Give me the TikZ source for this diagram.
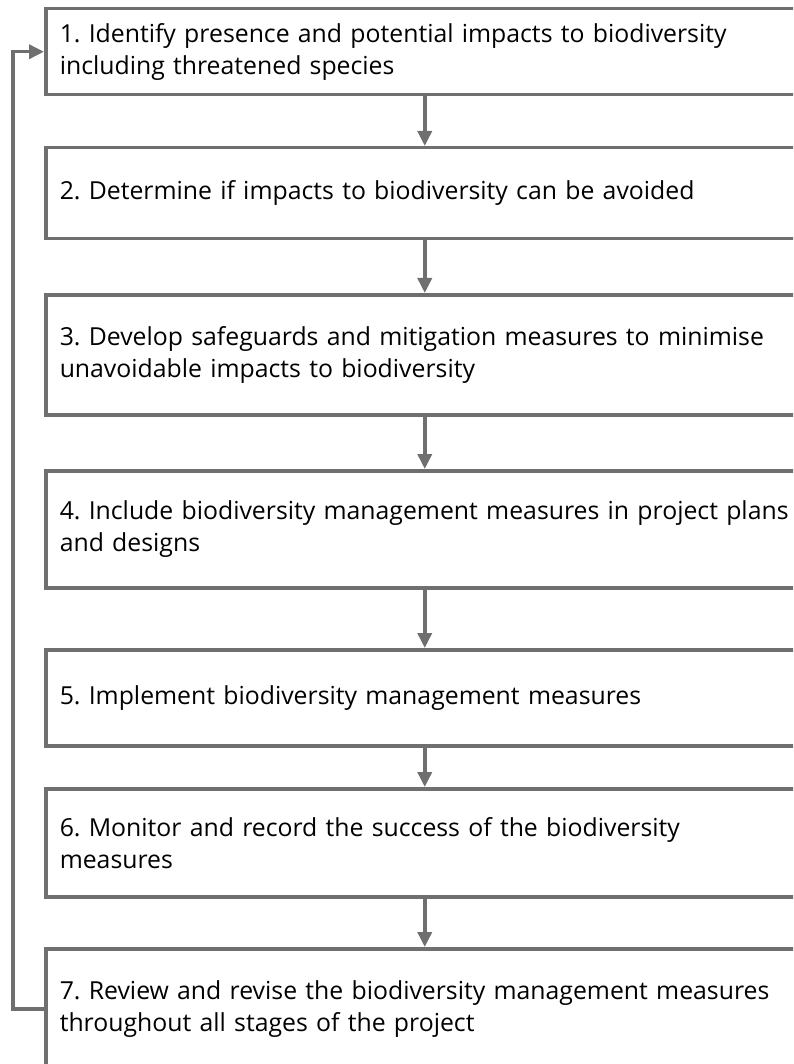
\documentclass[tikz,border=0pt]{standalone}
\usepackage{fontspec}
\setmainfont{Open Sans}
\usetikzlibrary{arrows.meta}
\definecolor{linegray}{HTML}{6F6F6F}
\tikzset{%
    stepbox/.style={draw=linegray, line width=3.5pt, anchor=north west,
        minimum width=758pt, text width=730pt, align=left,
        inner xsep=14pt, inner ysep=0pt,
        font=\fontsize{24.8}{32}\selectfont\frenchspacing},
    link/.style={draw=linegray, line width=3.5pt,
        -{Triangle[length=15pt,width=14pt]}}
}
\begin{document}
\begin{tikzpicture}[x=1pt, y=-1pt]
    \clip (0,0) rectangle (793,1064);
    \useasboundingbox (0,0) rectangle (793,1064);

    \node[stepbox, minimum height=86pt] (s1) at (44,7)
        {1. Identify presence and potential impacts to biodiversity\\including threatened species};
    \node[stepbox, minimum height=91pt] (s2) at (44,146)
        {2. Determine if impacts to biodiversity can be avoided};
    \node[stepbox, minimum height=120pt] (s3) at (44,293)
        {3. Develop safeguards and mitigation measures to minimise\\unavoidable impacts to biodiversity};
    \node[stepbox, minimum height=117pt] (s4) at (44,469)
        {4. Include biodiversity management measures in project plans\\and designs};
    \node[stepbox, minimum height=96pt] (s5) at (44,648)
        {5. Implement biodiversity management measures};
    \node[stepbox, minimum height=108pt] (s6) at (44,787)
        {6. Monitor and record the success of the biodiversity\\measures};
    \node[stepbox, minimum height=120pt] (s7) at (44,947)
        {7. Review and revise the biodiversity management measures\\throughout all stages of the project};

    \draw[link] (s1) -- (s2);
    \draw[link] (s2) -- (s3);
    \draw[link] (s3) -- (s4);
    \draw[link] (s4) -- (s5);
    \draw[link] (s5) -- (s6);
    \draw[link] (s6) -- (s7);
    \draw[link] (s7.west) -- ++(-31,0) |- (s1.west);
\end{tikzpicture}
\end{document}
